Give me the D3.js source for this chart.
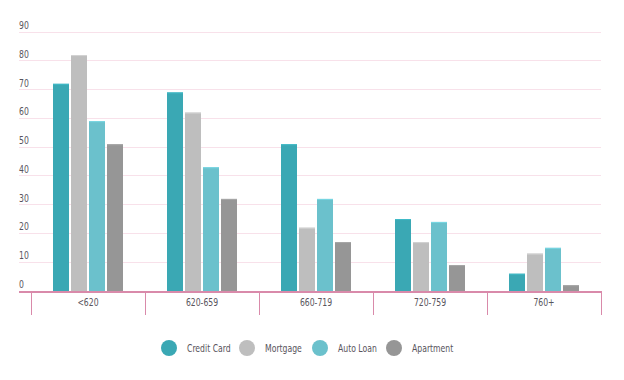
<!DOCTYPE html>
<html><head><meta charset="utf-8">
<script src="https://cdn.jsdelivr.net/npm/d3@7"></script>
<style>
html,body{margin:0;padding:0;background:#fff;}
svg{display:block;font-family:"DejaVu Sans Condensed","DejaVu Sans",sans-serif;}
</style></head>
<body>
<svg id="chart" width="624" height="380"></svg>
<script>
const categories = ["<620", "620-659", "660-719", "720-759", "760+"];
const seriesNames = ["Credit Card", "Mortgage", "Auto Loan", "Apartment"];
const creditCard = [72, 69, 51, 25, 6];
const mortgage = [82, 62, 22, 17, 13];
const autoLoan = [59, 43, 32, 24, 15];
const apartment = [51, 32, 17, 9, 2];
const yTicks = [0, 10, 20, 30, 40, 50, 60, 70, 80, 90];
const colors = ["#3aa8b4", "#bebebe", "#6bc1cc", "#969696"];

const seriesValues = [creditCard, mortgage, autoLoan, apartment];
const svg = d3.select("#chart");
const FS = 11, SX = 0.78, TXT = "#58545c";

const x0 = d3.scaleBand().domain(categories).range([31, 601]).paddingInner(0).paddingOuter(0);
const y = d3.scaleLinear().domain([0, 90]).range([291, 32]);
const x1 = d3.scaleBand().domain(seriesNames).range([22, 92]).paddingInner(2/18).paddingOuter(0);

// gridlines
svg.append("g").selectAll("line").data(yTicks.filter(d => d > 0)).join("line")
  .attr("x1", 19).attr("x2", 601)
  .attr("y1", d => y(d)).attr("y2", d => y(d))
  .attr("stroke", "#f8e1ea").attr("stroke-width", 1).attr("shape-rendering", "crispEdges");

// y labels
svg.append("g").selectAll("text").data(yTicks).join("text")
  .attr("transform", d => `translate(19,${y(d) - 3}) scale(${SX},1)`)
  .attr("font-size", FS).attr("fill", TXT)
  .text(d => d);

// bars
const groups = svg.append("g").selectAll("g").data(categories).join("g")
  .attr("transform", d => `translate(${x0(d)},0)`);
const cells = (c, i) => seriesNames.map((s, j) => ({s, v: seriesValues[j][i], j}));
groups.selectAll("rect").data(cells).join("rect")
  .attr("x", d => x1(d.s)).attr("width", x1.bandwidth())
  .attr("y", d => y(d.v)).attr("height", d => y(0) - y(d.v))
  .attr("fill", d => colors[d.j]);
groups.selectAll("line.top").data(cells).join("line").attr("class", "top")
  .attr("x1", d => x1(d.s)).attr("x2", d => x1(d.s) + x1.bandwidth())
  .attr("y1", d => y(d.v) + 0.5).attr("y2", d => y(d.v) + 0.5)
  .attr("stroke", d => d3.color(colors[d.j]).brighter(0.3)).attr("stroke-width", 1);

// axis line
svg.append("line").attr("x1", 19).attr("x2", 602).attr("y1", 292).attr("y2", 292)
  .attr("stroke", "#d98aaa").attr("stroke-width", 2);

// category ticks
const tickPos = categories.map(c => x0(c)).concat([x0.range()[1]]);
svg.append("g").selectAll("line").data(tickPos).join("line")
  .attr("x1", d => Math.round(d) + 0.5).attr("x2", d => Math.round(d) + 0.5)
  .attr("y1", 292).attr("y2", 315)
  .attr("stroke", "#d98aaa").attr("stroke-width", 1);

// x labels
svg.append("g").selectAll("text").data(categories).join("text")
  .attr("transform", d => `translate(${x0(d) + x0.bandwidth() / 2},306) scale(${SX},1)`)
  .attr("text-anchor", "middle").attr("font-size", FS).attr("fill", TXT)
  .text(d => d);

// legend
const legendX = [169, 247, 320, 394];
const leg = svg.append("g").selectAll("g").data(seriesNames).join("g")
  .attr("transform", (d, i) => `translate(${legendX[i]},348)`);
leg.append("circle").attr("r", 8).attr("fill", (d, i) => colors[i]);
leg.append("text").attr("transform", `translate(18,4) scale(${SX},1)`)
  .attr("font-size", FS).attr("fill", TXT).text(d => d);
</script>
</body></html>
